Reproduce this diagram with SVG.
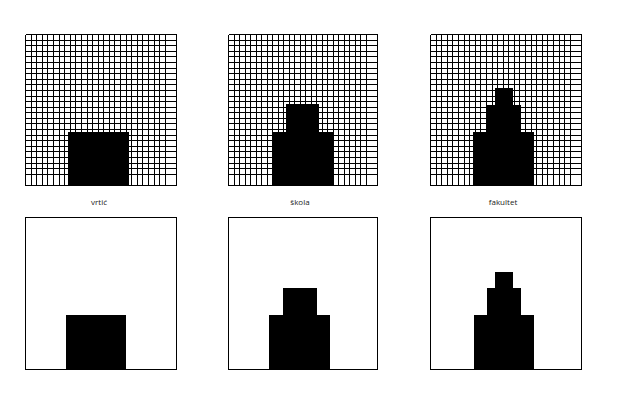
<svg xmlns="http://www.w3.org/2000/svg" width="633" height="401" viewBox="0 0 633 401">
<style>
.grid{fill:none;stroke:#000;stroke-width:1;shape-rendering:crispEdges}
.frame{fill:none;stroke:#000;stroke-width:1;shape-rendering:crispEdges}
.box{fill:#fff;stroke:#000;stroke-width:1;shape-rendering:crispEdges}
.blk{fill:#000;shape-rendering:crispEdges}
.lbl{font-family:"Open Sans","DejaVu Sans",sans-serif;font-size:8px;fill:#222;text-anchor:middle}
</style>
<defs>
<path id="gridA" class="grid" d="M0.5 0.5v151m5.593-151v151m5.593-151v151m5.593-151v151m5.593-151v151m5.593-151v151m5.593-151v151m5.593-151v151m5.593-151v151m5.593-151v151m5.593-151v151m5.593-151v151m5.593-151v151m5.593-151v151m5.593-151v151m5.593-151v151m5.593-151v151m5.593-151v151m5.593-151v151m5.593-151v151m5.593-151v151m5.593-151v151m5.593-151v151m5.593-151v151m5.593-151v151m5.593-151v151M0.5 0.5h151m-151 5.593h151m-151 5.593h151m-151 5.593h151m-151 5.593h151m-151 5.593h151m-151 5.593h151m-151 5.593h151m-151 5.593h151m-151 5.593h151m-151 5.593h151m-151 5.593h151m-151 5.593h151m-151 5.593h151m-151 5.593h151m-151 5.593h151m-151 5.593h151m-151 5.593h151m-151 5.593h151m-151 5.593h151m-151 5.593h151m-151 5.593h151m-151 5.593h151m-151 5.593h151m-151 5.593h151m-151 5.593h151M0.5 151.5h151M151.5 0.5v151"/>
<path id="gridB" class="grid" d="M0.5 0.5v151m5.519-151v151m5.519-151v151m5.519-151v151m5.519-151v151m5.519-151v151m5.519-151v151m5.519-151v151m5.519-151v151m5.519-151v151m5.519-151v151m5.519-151v151m5.519-151v151m5.519-151v151m5.519-151v151m5.519-151v151m5.519-151v151m5.519-151v151m5.519-151v151m5.519-151v151m5.519-151v151m5.519-151v151m5.519-151v151m5.519-151v151m5.519-151v151m5.519-151v151M0.5 0.5h149m-149 5.593h149m-149 5.593h149m-149 5.593h149m-149 5.593h149m-149 5.593h149m-149 5.593h149m-149 5.593h149m-149 5.593h149m-149 5.593h149m-149 5.593h149m-149 5.593h149m-149 5.593h149m-149 5.593h149m-149 5.593h149m-149 5.593h149m-149 5.593h149m-149 5.593h149m-149 5.593h149m-149 5.593h149m-149 5.593h149m-149 5.593h149m-149 5.593h149m-149 5.593h149m-149 5.593h149m-149 5.593h149M0.5 151.5h149M149.5 0.5v151"/>
</defs>
<rect width="633" height="401" fill="#fff"/>

<g id="grid-vrtic">
<use href="#gridA" transform="translate(25 34)"/>
<rect class="blk" x="68" y="132" width="61" height="54"/>
</g>
<g id="grid-skola">
<use href="#gridB" transform="translate(228 34)"/>
<rect class="blk" x="272" y="132" width="61" height="54"/>
<rect class="blk" x="286" y="104" width="33" height="28"/>
</g>
<g id="grid-fakultet">
<use href="#gridA" transform="translate(430 34)"/>
<rect class="blk" x="473" y="132" width="61" height="54"/>
<rect class="blk" x="487" y="105" width="34" height="27"/>
<rect class="blk" x="495" y="88" width="18" height="17"/>
</g>

<g id="labels">
<text class="lbl" x="99" y="205">vrtić</text>
<text class="lbl" x="300" y="205">škola</text>
<text class="lbl" x="503" y="205">fakultet</text>
</g>

<g id="shape-vrtic">
<rect class="box" x="25.5" y="217.5" width="151" height="152"/>
<rect class="blk" x="66" y="315" width="60" height="55"/>
</g>
<g id="shape-skola">
<rect class="box" x="228.5" y="217.5" width="149" height="152"/>
<rect class="blk" x="269" y="315" width="61" height="55"/>
<rect class="blk" x="283" y="288" width="34" height="27"/>
</g>
<g id="shape-fakultet">
<rect class="box" x="430.5" y="217.5" width="151" height="152"/>
<rect class="blk" x="474" y="315" width="60" height="55"/>
<rect class="blk" x="487" y="288" width="34" height="27"/>
<rect class="blk" x="495" y="272" width="18" height="16"/>
</g>
</svg>
